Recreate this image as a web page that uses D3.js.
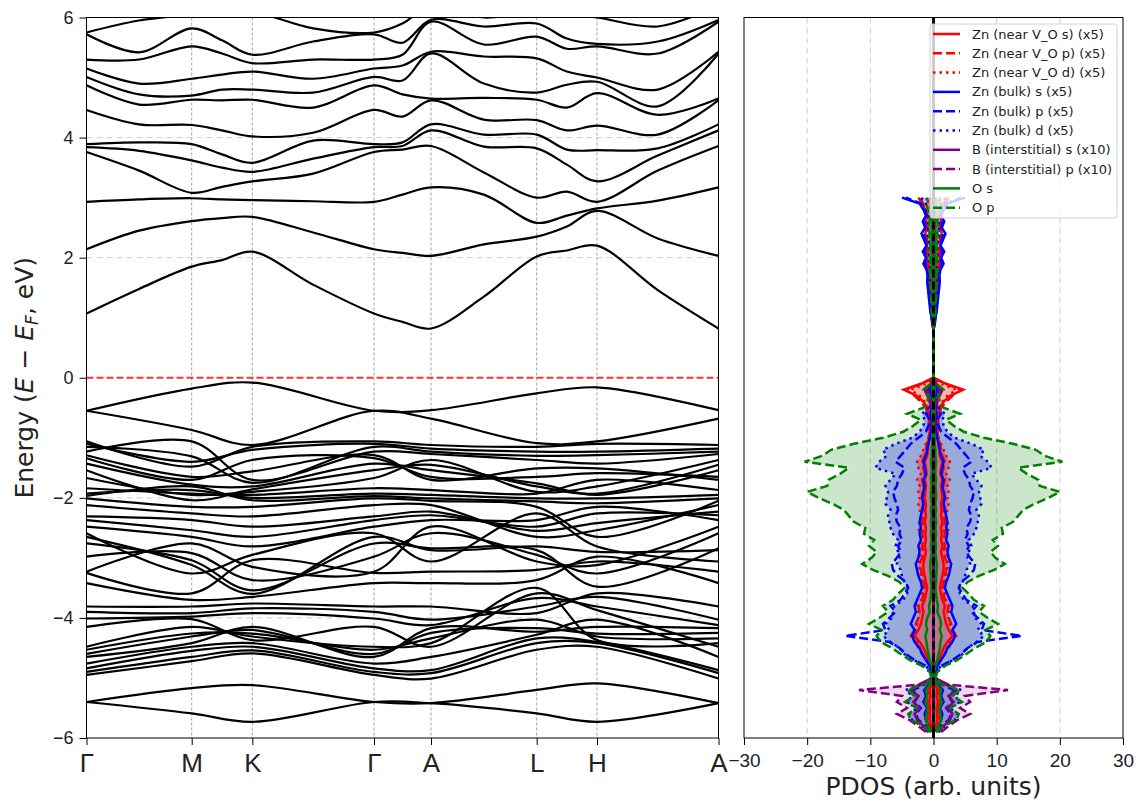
<!DOCTYPE html>
<html>
<head>
<meta charset="utf-8">
<script src="https://cdn.jsdelivr.net/npm/d3@7"></script>
<style>
  body { margin: 0; background: #fff; }
  svg { font-family: "DejaVu Sans", sans-serif; }
</style>
</head>
<body>
<svg id="chart" width="1140" height="803"></svg>
<script>
// k-path: high symmetry labels and their distances along the path
const kLabels = ["Γ", "M", "K", "Γ", "A", "L", "H", "A"];
const kDist = [0, 105.2, 165.8, 287.5, 344.5, 450.2, 510.5, 632];

// conduction bands (eV), one array per k column (high-symmetry points and segment midpoints)
const cbG  = [1.07, 2.14, 2.93, 3.76, 3.84, 3.89, 4.46, 4.87, 5.01, 5.15, 5.30, 5.72, 5.75, 6.30];
const cbGM = [1.48, 2.45, 2.97, 3.45, 3.78, 3.92, 4.22, 4.55, 4.72, 4.90, 5.30, 5.42, 5.95, 6.30];
const cbM  = [1.85, 2.61, 2.99, 3.08, 3.62, 3.89, 4.21, 4.63, 4.70, 4.98, 5.52, 5.82, 6.05, 6.40];
const cbMK = [1.96, 2.66, 2.97, 3.18, 3.50, 3.72, 4.12, 4.62, 4.80, 5.05, 5.40, 5.62, 6.10, 6.40];
const cbK  = [2.10, 2.68, 2.96, 3.27, 3.43, 3.58, 4.02, 4.63, 4.80, 5.10, 5.24, 5.38, 6.10, 6.40];
const cbKG = [1.55, 2.42, 2.94, 3.40, 3.65, 3.95, 4.08, 4.50, 4.75, 4.98, 5.30, 5.60, 5.82, 6.20];
const cbGA = [0.93, 2.08, 3.05, 3.80, 3.86, 3.92, 4.35, 4.72, 4.95, 5.20, 5.38, 5.58, 5.90, 6.10];
const cbA  = [0.82, 2.03, 3.17, 3.86, 4.12, 4.22, 4.62, 4.65, 5.40, 5.43, 5.93, 5.96, 6.20, 6.30];
const cbAL = [1.35, 2.22, 3.05, 3.42, 3.85, 4.05, 4.30, 4.66, 4.90, 5.35, 5.55, 5.85, 6.00, 6.30];
const cbL  = [2.02, 2.35, 2.58, 3.00, 3.82, 4.05, 4.29, 4.63, 4.75, 5.32, 5.68, 5.90, 6.10, 6.30];
const cbLH = [2.12, 2.52, 2.70, 3.10, 3.55, 3.80, 4.12, 4.50, 4.88, 5.10, 5.48, 5.65, 6.05, 6.30];
const cbH  = [2.20, 2.78, 2.82, 2.93, 3.27, 3.79, 4.20, 4.74, 4.93, 5.00, 5.52, 5.56, 6.00, 6.20];
const cbHA = [1.46, 2.32, 2.95, 3.45, 3.70, 3.82, 4.05, 4.38, 4.52, 4.80, 5.40, 5.60, 5.85, 6.10];

// valence bands (eV) at the high-symmetry points
const vbG = [-0.55, -0.55, -1.06, -1.10, -1.15, -1.23, -1.29, -1.34, -1.43, -1.54, -1.67, -1.84, -1.93, -1.97, -2.01, -2.12, -2.31, -2.37, -2.48, -2.59,
             -2.65, -2.76, -2.98, -3.23, -3.25, -3.42, -3.81, -3.90, -4.01, -4.15, -4.48, -4.53, -4.60, -4.65, -4.76, -4.84, -4.90, -4.95, -5.40, -5.40];
const vbM = [-0.18, -0.87, -1.48, -1.40, -1.31, -1.06, -1.65, -1.70, -1.78, -2.04, -1.95, -1.93, -1.87, -1.81, -2.15, -2.26, -2.37, -2.54, -2.65, -3.26,
             -3.12, -3.04, -2.92, -2.76, -3.59, -3.70, -3.81, -3.92, -3.98, -4.02, -4.15, -4.26, -4.31, -4.42, -4.48, -4.55, -4.65, -4.72, -5.17, -5.59];
const vbK = [-0.08, -1.12, -1.15, -1.20, -1.75, -1.70, -1.56, -1.37, -1.81, -1.86, -1.90, -1.95, -2.00, -2.04, -2.15, -2.31, -2.48, -2.65, -2.81, -2.95,
             -3.60, -3.54, -3.37, -3.15, -3.04, -3.65, -3.76, -3.84, -3.92, -4.37, -4.31, -4.26, -4.20, -4.15, -4.42, -4.48, -4.54, -4.59, -5.12, -5.73];
const vbA = [-0.54, -0.68, -1.12, -1.18, -1.23, -1.27, -1.70, -1.65, -1.54, -1.45, -1.37, -1.87, -1.95, -2.01, -2.05, -2.12, -2.23, -2.29, -2.37, -3.06,
             -2.87, -2.84, -2.59, -2.48, -3.23, -3.42, -3.81, -4.03, -4.12, -4.48, -4.42, -4.34, -4.25, -4.17, -4.65, -4.87, -4.92, -5.01, -5.42, -5.42];
const vbL = [-0.26, -1.09, -1.15, -1.23, -1.30, -1.37, -1.51, -1.65, -1.76, -1.81, -1.90, -1.93, -2.01, -2.06, -2.15, -2.65, -2.55, -2.48, -2.37, -2.26,
             -2.81, -2.87, -2.95, -3.06, -3.20, -3.37, -3.92, -3.81, -3.67, -3.59, -3.50, -4.03, -4.17, -4.23, -4.28, -4.34, -4.42, -4.53, -5.20, -5.59];
const vbH = [-0.16, -1.06, -1.10, -1.23, -1.29, -1.43, -1.51, -1.59, -1.95, -1.93, -1.81, -1.70, -2.01, -2.09, -2.65, -2.54, -2.42, -2.26, -2.15, -2.81,
             -2.90, -3.48, -3.26, -3.12, -3.06, -2.98, -3.59, -3.65, -3.81, -3.87, -4.37, -4.31, -4.26, -4.15, -4.03, -4.40, -4.42, -4.48, -5.09, -5.73];

// PDOS, sampled every 0.1 eV from -5.9 to 3.0 eV
const pdosEnergy = d3.range(90).map(i => Math.round((-5.9 + 0.1 * i) * 10) / 10);

const znVoS = [0.2,0.4,0.6,0.6,0.5,0.7,0.5,0.6,0.3,0.1, 0.2,0.4,0.8,1.2,1.6,2.2,3.0,2.4,2.0,1.8, 1.6,1.8,1.4,1.2,1.0,1.2,1.4,1.6,1.6,1.4,
  1.2,1.4,1.2,1.3,1.2,1.4,1.2,1.3,1.2,1.4, 1.3,1.2,1.4,1.1,1.2,1.4,1.0,0.9,0.8,0.6, 0.4,0.6,0.5,0.8,1.0,1.6,2.6,4.7,2.0,0,
  0,0,0,0,0,0,0,0,0.2,0.3, 0.4,0.5,0.6,0.6,0.7,0.8,0.8,0.9,1.0,1.0, 1.1,1.0,1.2,1.3,1.1,1.2,1.0,1.3,1.8,2.4];
const znVoP = [0.3,0.6,0.9,1.0,0.7,1.1,0.8,1.0,0.4,0.1, 0.2,0.6,1.2,1.8,2.4,2.8,3.6,3.0,2.8,2.4, 2.2,2.4,1.8,1.6,1.4,1.6,1.8,2.0,2.2,1.8,
  1.6,1.8,1.6,1.8,1.6,1.8,1.6,1.7,1.6,1.8, 1.7,1.6,1.8,1.4,1.6,1.8,1.4,1.2,1.0,0.8, 0.6,0.8,0.7,1.0,1.2,2.0,3.0,4.4,1.8,0,
  0,0,0,0,0,0,0,0,0.1,0.2, 0.3,0.3,0.4,0.5,0.5,0.6,0.6,0.7,0.8,0.8, 0.9,0.8,1.0,1.1,0.9,1.0,0.9,1.2,1.6,2.2];
const znVoD = [0.4,0.8,1.2,1.4,1.0,1.5,1.2,1.4,0.6,0.2, 0.2,0.5,1.2,1.8,2.2,2.6,3.2,2.8,2.6,2.4, 2.4,2.6,2.0,1.8,1.6,1.8,2.0,2.2,2.4,2.2,
  2.0,2.2,2.0,2.2,2.4,2.2,2.0,2.2,2.4,2.2, 2.4,2.2,2.6,2.0,2.4,2.6,2.0,1.6,1.2,0.8, 0.5,0.4,0.4,0.6,0.8,1.4,2.2,3.6,1.2,0,
  0,0,0,0,0,0,0,0,0,0.1, 0.1,0.1,0.2,0.2,0.2,0.2,0.3,0.3,0.3,0.3, 0.4,0.3,0.4,0.5,0.4,0.5,0.4,0.5,0.8,1.0];
const znBulkS = [0.4,0.8,1.2,1.4,1.0,1.6,1.2,1.5,0.6,0.2, 0.3,0.6,1.2,1.8,2.2,3.0,3.4,3.0,3.6,3.2, 2.8,3.0,2.6,2.2,1.8,2.0,2.4,2.6,2.8,2.4,
  2.2,2.4,2.0,2.2,2.0,2.2,2.0,1.8,1.6,1.8, 1.6,1.4,1.6,1.2,1.4,1.6,1.2,1.0,0.8,0.6, 0.4,0.3,0.3,0.5,0.3,0.3,0.2,0.6,0.3,0,
  0,0,0,0,0,0,0,0,0.2,0.3, 0.5,0.6,0.7,0.8,0.9,1.0,0.9,1.1,1.6,1.2, 1.7,1.1,1.5,1.9,1.3,1.7,1.2,1.6,2.2,5.0];
const znBulkP = [0.6,1.2,2.4,2.8,2.0,3.0,2.4,3.2,1.2,0.3, 0.5,1.2,3.0,4.4,5.4,7.0,14.0,7.6,8.0,7.0, 6.0,6.8,5.2,4.6,4.0,4.4,5.6,6.4,6.6,5.8,
  5.2,5.6,5.0,5.4,5.2,5.8,6.0,5.6,5.8,6.2, 6.4,5.8,5.6,5.0,4.6,6.0,5.2,4.4,3.6,2.4, 1.2,0.8,0.6,1.2,0.5,0.4,0.3,0.6,0.3,0,
  0,0,0,0,0,0,0,0,0.1,0.3, 0.4,0.5,0.6,0.7,0.8,1.0,0.9,1.1,1.3,1.1, 1.4,1.1,1.3,1.6,1.3,1.4,1.1,1.4,1.9,4.4];
const znBulkD = [0.8,1.8,3.4,3.8,2.6,4.2,3.4,4.4,1.6,0.4, 0.4,1.2,3.2,4.6,5.4,6.8,8.0,7.0,7.6,6.6, 6.4,6.2,4.8,4.2,4.0,4.6,5.0,5.2,5.8,5.4,
  5.6,6.0,5.6,6.4,6.8,7.0,7.2,6.8,7.6,7.4, 7.2,7.6,6.8,6.0,9.2,8.6,7.4,8.0,6.0,3.4, 2.2,1.6,1.4,1.8,0.8,0.5,0.4,0.8,0.3,0,
  0,0,0,0,0,0,0,0,0.1,0.2, 0.3,0.3,0.4,0.4,0.5,0.5,0.6,0.5,0.7,0.6, 0.8,0.6,0.8,1.0,0.8,0.9,0.7,0.9,1.2,2.0];
const bS = [0.8,1.6,2.6,3.0,2.2,3.2,2.4,3.6,2.2,0.2, 0,0,0,0,0,0,0,0,0,0, 0,0,0,0,0,0,0,0,0,0,
  0,0,0,0,0,0,0,0,0,0, 0,0,0,0,0,0,0,0,0,0, 0,0,0,0.1,0.2,0.4,0.8,1.0,0.3,0,
  0,0,0,0,0,0,0,0,0,0, 0,0,0,0,0,0,0,0,0,0, 0,0,0,0,0,0,0,0,0.1,0.2];
const bP = [1.2,2.4,3.8,5.8,4.2,5.8,5.0,11.8,1.0,0.2, 0,0,0,0,0,0,0,0,0,0, 0,0,0,0,0,0,0,0,0,0,
  0,0,0,0,0,0,0,0,0,0, 0,0,0,0,0,0,0,0,0,0, 0,0,0,0.2,0.3,0.6,1.0,1.4,0.4,0,
  0,0,0,0,0,0,0,0,0,0, 0,0,0,0,0,0,0,0,0,0, 0,0,0,0,0,0,0,0,0.1,0.3];
const oS = [0.4,0.8,1.2,1.1,0.9,1.3,1.0,1.2,0.5,0.1, 0.1,0.3,0.6,0.8,1.0,1.1,1.3,1.0,1.2,1.0, 0.6,0.7,0.5,0.4,0.3,0.4,0.4,0.5,0.5,0.4,
  0.3,0.4,0.3,0.4,0.3,0.4,0.3,0.4,0.3,0.4, 0.4,0.3,0.4,0.3,0.3,0.4,0.3,0.3,0.2,0.2, 0.1,0.1,0.1,0.2,0.1,0.1,0.1,0.2,0.1,0,
  0,0,0,0,0,0,0,0,0,0.1, 0.1,0.1,0.2,0.1,0.2,0.2,0.2,0.2,0.2,0.2, 0.2,0.2,0.3,0.2,0.3,0.2,0.3,0.3,0.4,0.3];
const oP = [0.4,1.5,3.6,4.0,2.6,4.5,3.0,4.2,1.2,0.3, 0.6,1.8,3.8,5.2,6.6,8.4,9.0,8.2,10.2,8.6, 7.2,8.0,6.4,5.6,4.6,5.4,7.2,9.6,11.3,9.8,
  9.0,10.2,9.4,11.0,10.8,12.6,13.4,14.2,16.0,18.2, 20.0,16.8,16.6,14.8,13.4,20.4,17.6,16.2,12.6,8.0, 4.8,3.2,2.0,4.2,1.6,1.0,0.8,1.6,0.5,0,
  0,0,0,0,0,0,0,0,0.1,0.2, 0.3,0.3,0.4,0.4,0.5,0.4,0.5,0.6,0.5,0.6, 0.6,0.5,0.7,0.6,0.8,0.6,0.7,0.9,1.2,1.0];

const pdosTicks = [-30, -20, -10, 0, 10, 20, 30];
const energyTicks = [-6, -4, -2, 0, 2, 4, 6];

const svg = d3.select("#chart");

const band = { left: 86.5, right: 718.5, top: 17.5, bottom: 738 };
const dos = { left: 744, right: 1123, top: 17.5, bottom: 738 };

const xk = d3.scaleLinear().domain([0, kDist[kDist.length - 1]]).range([band.left, band.right]);
const yE = d3.scaleLinear().domain([-6, 6]).range([band.bottom, band.top]);
const xp = d3.scaleLinear().domain([-30, 30]).range([dos.left, dos.right]);

const defs = svg.append("defs");
defs.append("clipPath").attr("id", "clipBand").append("rect")
  .attr("x", band.left).attr("y", band.top)
  .attr("width", band.right - band.left).attr("height", band.bottom - band.top);
defs.append("clipPath").attr("id", "clipDos").append("rect")
  .attr("x", dos.left).attr("y", dos.top)
  .attr("width", dos.right - dos.left).attr("height", dos.bottom - dos.top);

// ---------- band structure panel ----------
const gBand = svg.append("g");

gBand.selectAll(".hgrid").data(energyTicks.filter(d => d !== 0 && Math.abs(d) !== 6))
  .enter().append("line")
  .attr("x1", band.left).attr("x2", band.right)
  .attr("y1", d => yE(d)).attr("y2", d => yE(d))
  .attr("stroke", "#cfcfcf").attr("stroke-width", 1).attr("stroke-dasharray", "6,4");

gBand.selectAll(".vgrid").data(kDist.slice(1, -1))
  .enter().append("line")
  .attr("x1", d => xk(d)).attr("x2", d => xk(d))
  .attr("y1", band.top).attr("y2", band.bottom)
  .attr("stroke", "#8a8a8a").attr("stroke-width", 0.8).attr("stroke-dasharray", "3,2");

gBand.append("line")
  .attr("x1", band.left).attr("x2", band.right)
  .attr("y1", yE(0)).attr("y2", yE(0))
  .attr("stroke", "red").attr("stroke-opacity", 0.8).attr("stroke-width", 2)
  .attr("stroke-dasharray", "7,3");

// sample positions for conduction columns: every point plus segment midpoints
const cbCols = [cbG, cbGM, cbM, cbMK, cbK, cbKG, cbG, cbGA, cbA, cbAL, cbL, cbLH, cbH, cbHA, cbA];
const cbX = [];
kDist.forEach((d, i) => {
  cbX.push(d);
  if (i < kDist.length - 1) cbX.push((d + kDist[i + 1]) / 2);
});
const vbCols = [vbG, vbM, vbK, vbG, vbA, vbL, vbH, vbA];

const condBands = d3.range(cbG.length).map(b => cbCols.map((col, j) => [cbX[j], col[b]]));
const valBands = d3.range(vbG.length).map(b => vbCols.map((col, j) => [kDist[j], col[b]]));

const bandLine = d3.line().x(d => xk(d[0])).y(d => yE(d[1])).curve(d3.curveCatmullRom.alpha(0.5));

const gLines = gBand.append("g").attr("clip-path", "url(#clipBand)");
gLines.selectAll(".cb").data(condBands).enter().append("path")
  .attr("d", bandLine).attr("fill", "none").attr("stroke", "black").attr("stroke-width", 2.2);
gLines.selectAll(".vb").data(valBands).enter().append("path")
  .attr("d", bandLine).attr("fill", "none").attr("stroke", "black").attr("stroke-width", 2.2);

gBand.append("rect")
  .attr("x", band.left).attr("y", band.top)
  .attr("width", band.right - band.left).attr("height", band.bottom - band.top)
  .attr("fill", "none").attr("stroke", "black").attr("stroke-width", 1);

const yAxis = gBand.append("g").attr("transform", `translate(${band.left},0)`)
  .call(d3.axisLeft(yE).tickValues(energyTicks).tickSize(7).tickPadding(6));
yAxis.select(".domain").remove();
yAxis.selectAll("text").attr("font-size", 18).attr("fill", "#222");

const kAxis = gBand.append("g").attr("transform", `translate(0,${band.bottom})`)
  .call(d3.axisBottom(xk).tickValues(kDist).tickFormat((d, i) => kLabels[i]).tickSize(7).tickPadding(9));
kAxis.select(".domain").remove();
kAxis.selectAll("text").attr("font-size", 26).attr("fill", "#222");

const yLabel = svg.append("text")
  .attr("transform", `translate(33,${(band.top + band.bottom) / 2}) rotate(-90)`)
  .attr("text-anchor", "middle").attr("font-size", 25).attr("fill", "#222");
yLabel.append("tspan").text("Energy (");
yLabel.append("tspan").attr("font-style", "italic").text("E");
yLabel.append("tspan").text(" − ");
yLabel.append("tspan").attr("font-style", "italic").text("E");
yLabel.append("tspan").attr("font-style", "italic").attr("font-size", 17).attr("dy", 5).text("F");
yLabel.append("tspan").attr("dy", -5).text(", eV)");

// ---------- PDOS panel ----------
const gDos = svg.append("g");

gDos.selectAll(".pgrid").data(pdosTicks.filter(d => d !== 0 && Math.abs(d) !== 30))
  .enter().append("line")
  .attr("x1", d => xp(d)).attr("x2", d => xp(d))
  .attr("y1", dos.top).attr("y2", dos.bottom)
  .attr("stroke", "#cfcfcf").attr("stroke-width", 1).attr("stroke-dasharray", "6,4");

const gData = gDos.append("g").attr("clip-path", "url(#clipDos)");

gData.append("line")
  .attr("x1", xp(0)).attr("x2", xp(0)).attr("y1", dos.top).attr("y2", dos.bottom)
  .attr("stroke", "black").attr("stroke-width", 3);

const fills = [
  { values: oP, color: "rgba(0,128,0,0.2)" },
  { values: znBulkD, color: "rgba(0,0,255,0.25)" },
  { values: znVoD, color: "rgba(255,0,0,0.3)" },
  { values: bP, color: "rgba(128,0,128,0.15)" }
];
fills.forEach(f => {
  const area = d3.area()
    .y(d => yE(d[0]))
    .x0(d => xp(-d[1]))
    .x1(d => xp(d[1]));
  gData.append("path")
    .attr("d", area(pdosEnergy.map((e, i) => [e, f.values[i]])))
    .attr("fill", f.color);
});

const series = [
  { name: "Zn (near V_O s) (x5)", values: znVoS, color: "red", dash: null },
  { name: "Zn (near V_O p) (x5)", values: znVoP, color: "red", dash: "9,4" },
  { name: "Zn (near V_O d) (x5)", values: znVoD, color: "red", dash: "2.5,4" },
  { name: "Zn (bulk) s (x5)", values: znBulkS, color: "blue", dash: null },
  { name: "Zn (bulk) p (x5)", values: znBulkP, color: "blue", dash: "9,4" },
  { name: "Zn (bulk) d (x5)", values: znBulkD, color: "blue", dash: "2.5,4" },
  { name: "B (interstitial) s (x10)", values: bS, color: "purple", dash: null },
  { name: "B (interstitial) p (x10)", values: bP, color: "purple", dash: "9,4" },
  { name: "O s", values: oS, color: "green", dash: null },
  { name: "O p", values: oP, color: "green", dash: "9,4" }
];

series.forEach(s => {
  [1, -1].forEach(sign => {
    const line = d3.line().x(d => xp(sign * d[1])).y(d => yE(d[0]));
    gData.append("path")
      .attr("d", line(pdosEnergy.map((e, i) => [e, s.values[i]])))
      .attr("fill", "none")
      .attr("stroke", s.color)
      .attr("stroke-width", 2.5)
      .attr("stroke-dasharray", s.dash);
  });
});

gData.append("line")
  .attr("x1", xp(0)).attr("x2", xp(0)).attr("y1", dos.top).attr("y2", dos.bottom)
  .attr("stroke", "black").attr("stroke-width", 3).attr("stroke-dasharray", "8,4");

gDos.append("rect")
  .attr("x", dos.left).attr("y", dos.top)
  .attr("width", dos.right - dos.left).attr("height", dos.bottom - dos.top)
  .attr("fill", "none").attr("stroke", "black").attr("stroke-width", 1);

const pAxis = gDos.append("g").attr("transform", `translate(0,${dos.bottom})`)
  .call(d3.axisBottom(xp).tickValues(pdosTicks).tickSize(7).tickPadding(9));
pAxis.select(".domain").remove();
pAxis.selectAll("text").attr("font-size", 19).attr("fill", "#222");

svg.append("text")
  .attr("x", xp(0)).attr("y", 795)
  .attr("text-anchor", "middle").attr("font-size", 25).attr("fill", "#222")
  .text("PDOS (arb. units)");

// legend
const legend = svg.append("g").attr("transform", "translate(930,24)");
legend.append("rect")
  .attr("width", 187).attr("height", 194).attr("rx", 3)
  .attr("fill", "white").attr("fill-opacity", 0.8)
  .attr("stroke", "#d0d0d0").attr("stroke-width", 1);
const rows = legend.selectAll(".row").data(series).enter().append("g")
  .attr("transform", (d, i) => `translate(0,${10 + i * 19.3})`);
rows.append("line")
  .attr("x1", 3).attr("x2", 30).attr("y1", 0).attr("y2", 0)
  .attr("stroke", d => d.color).attr("stroke-width", 2.5)
  .attr("stroke-dasharray", d => d.dash);
rows.append("text")
  .attr("x", 42).attr("y", 0).attr("dy", "0.35em")
  .attr("font-size", 13).attr("fill", "#222")
  .text(d => d.name);
</script>
</body>
</html>
